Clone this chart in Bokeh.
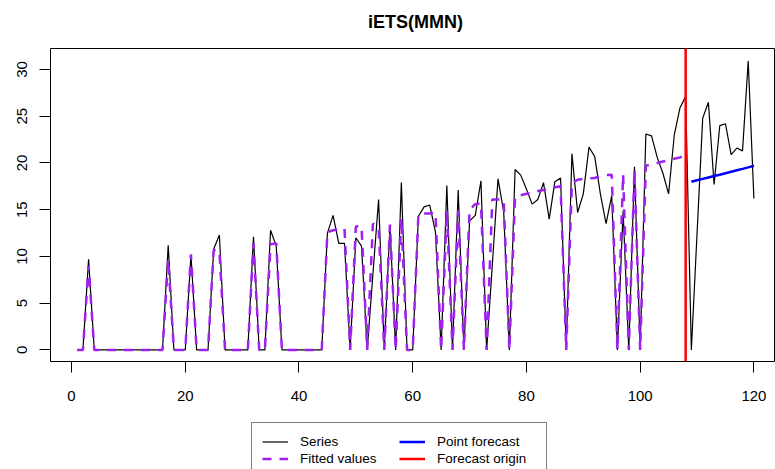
from bokeh.plotting import figure
from bokeh.models import Range1d, FixedTicker, Span, Legend, LegendItem, Label
from bokeh.layouts import column
from bokeh.embed import file_html
from bokeh.resources import INLINE

title_text = "iETS(MMN)"

t_series = list(range(1, 121))
series = [
    0, 0, 9.7, 0, 0, 0, 0, 0, 0, 0,
    0, 0, 0, 0, 0, 0, 11.2, 0, 0, 0,
    10.2, 0, 0, 0, 10.8, 12.3, 0, 0, 0, 0,
    0, 12.1, 0, 0, 12.8, 11.1, 0, 0, 0, 0,
    0, 0, 0, 0, 12.5, 14.4, 11.4, 11.4, 0, 12.0,
    11.1, 0, 8.1, 16.1, 0, 13.3, 0, 17.9, 0, 0,
    14.3, 15.3, 15.5, 12.6, 0, 17.6, 0, 17.1, 0, 13.8,
    14.4, 18.1, 0, 9.1, 18.3, 14.8, 0, 19.3, 18.7, 17.2,
    15.6, 16.1, 17.9, 14.0, 18.0, 18.4, 0, 21.0, 14.7, 16.7,
    21.7, 20.7, 16.7, 13.5, 16.5, 0, 14.9, 0, 19.6, 0,
    23.1, 22.9, 20.6, 18.9, 16.7, 23.0, 25.9, 27.1, 0, 12.4,
    24.8, 26.5, 17.7, 24.0, 24.2, 20.9, 21.6, 21.3, 30.9, 16.2,
]

t_fitted = list(range(1, 109))
fitted = [
    0, 0, 9.0, 0, 0, 0, 0, 0, 0, 0,
    0, 0, 0, 0, 0, 0, 9.7, 0, 0, 0,
    10.2, 0, 0, 0, 10.7, 10.6, 0, 0, 0, 0,
    0, 11.4, 0, 0, 11.3, 11.4, 0, 0, 0, 0,
    0, 0, 0, 0, 12.6, 12.8, 12.9, 13.0, 0, 13.2,
    13.25, 0, 13.5, 13.2, 0, 13.4, 0, 14.1, 0, 0,
    14.5, 14.6, 14.6, 14.7, 0, 14.9, 0, 14.9, 0, 15.0,
    15.6, 15.7, 0, 16.1, 16.1, 16.1, 0, 16.4, 16.55, 16.7,
    16.85, 17.0, 17.1, 17.25, 17.4, 17.5, 0, 17.9, 18.2, 18.3,
    18.35, 18.4, 18.6, 18.7, 18.75, 0, 18.8, 0, 19.3, 0,
    19.7, 19.85, 20.0, 20.15, 20.3, 20.45, 20.6, 20.8,
]

t_forecast = list(range(109, 121))
forecast = [18.00, 18.15, 18.30, 18.45, 18.60, 18.75, 18.90, 19.06, 19.22, 19.37, 19.53, 19.70]

forecast_origin = 108

x_ticks = [0, 20, 40, 60, 80, 100, 120]
y_ticks = [0, 5, 10, 15, 20, 25, 30]

legend_labels = ["Series", "Fitted values", "Point forecast", "Forecast origin"]

FONT = "Liberation Sans"
W = 775
LEFT = 50  # width of the y-axis area; the column aligns every frame to it

STYLE_SERIES = dict(line_color="black", line_width=1.2)
STYLE_FIT = dict(line_color="#A020F0", line_width=2.5, line_dash="9 8")
STYLE_FC = dict(line_color="#0000FF", line_width=2.5)
STYLE_ORIGIN = dict(line_color="#FF0000", line_width=2.5)


def blank(h):
    # a strip without axes; its ranges lie away from the data, so no data is drawn in it
    f = figure(width=W, height=h, output_backend="svg", toolbar_location=None,
               x_axis_type=None, y_axis_type=None,
               x_range=Range1d(-1000, -999), y_range=Range1d(-1000, -999),
               min_border_left=LEFT, min_border_right=0, min_border_top=0, min_border_bottom=0)
    f.outline_line_color = None
    f.background_fill_color = "white"
    f.border_fill_color = "white"
    f.xgrid.visible = False
    f.ygrid.visible = False
    return f


# ---- title strip
pt = blank(48)
pt.add_layout(Label(x=415 - LEFT, y=27, x_units="screen", y_units="screen", text=title_text,
                    text_align="center", text_baseline="middle",
                    text_font=FONT, text_font_size="18px", text_font_style="bold",
                    text_color="black"))

# ---- main plot
p = figure(
    width=W, height=373,
    output_backend="svg", toolbar_location=None,
    x_range=Range1d(-3.7, 123.8), y_range=Range1d(-1.24, 32.25),
    min_border_left=LEFT, min_border_right=0, min_border_top=0, min_border_bottom=60,
)
p.background_fill_color = "white"
p.border_fill_color = "white"
p.outline_line_color = "black"
p.outline_line_width = 1
p.xgrid.visible = False
p.ygrid.visible = False

for ax, ticks in ((p.xaxis, x_ticks), (p.yaxis, y_ticks)):
    ax.ticker = FixedTicker(ticks=ticks)
    ax.axis_line_color = None
    ax.major_tick_in = 0
    ax.major_tick_out = 11
    ax.minor_tick_line_color = None
    ax.major_tick_line_color = "black"
    ax.major_label_text_font = FONT
    ax.major_label_text_font_size = "15px"
    ax.major_label_text_color = "black"
p.xaxis.major_label_standoff = 18
p.yaxis.major_label_standoff = 12
p.yaxis.major_label_orientation = "vertical"

p.line(t_series, series, **STYLE_SERIES)
p.line(t_fitted, fitted, **STYLE_FIT)
p.line(t_forecast, forecast, **STYLE_FC)
p.add_layout(Span(location=forecast_origin, dimension="height", **STYLE_ORIGIN))

# ---- legend strip (carrier renderers hold the same data, outside this strip's ranges)
pl = blank(48)
k_series = pl.line(t_series, series, **STYLE_SERIES)
k_fit = pl.line(t_fitted, fitted, **STYLE_FIT)
k_fc = pl.line(t_forecast, forecast, **STYLE_FC)
k_origin = pl.line([forecast_origin, forecast_origin], [min(series), max(series)], **STYLE_ORIGIN)

legend = Legend(
    items=[
        LegendItem(label=legend_labels[0], renderers=[k_series]),
        LegendItem(label=legend_labels[1], renderers=[k_fit]),
        LegendItem(label=legend_labels[2], renderers=[k_fc]),
        LegendItem(label=legend_labels[3], renderers=[k_origin]),
    ],
    ncols=2,
    location=(251 - LEFT, -9),
    label_text_font=FONT,
    label_text_font_size="13.5px",
    label_text_color="black",
    glyph_width=26, glyph_height=17, label_height=17, label_width=99,
    label_standoff=12, padding=10, spacing=0, margin=0,
    border_line_color="black", border_line_width=1,
    background_fill_color="white", background_fill_alpha=1.0,
)
pl.add_layout(legend)

layout = column(pt, p, pl, spacing=0)
html = file_html(layout, INLINE)
open("out.html", "w").write(html)
